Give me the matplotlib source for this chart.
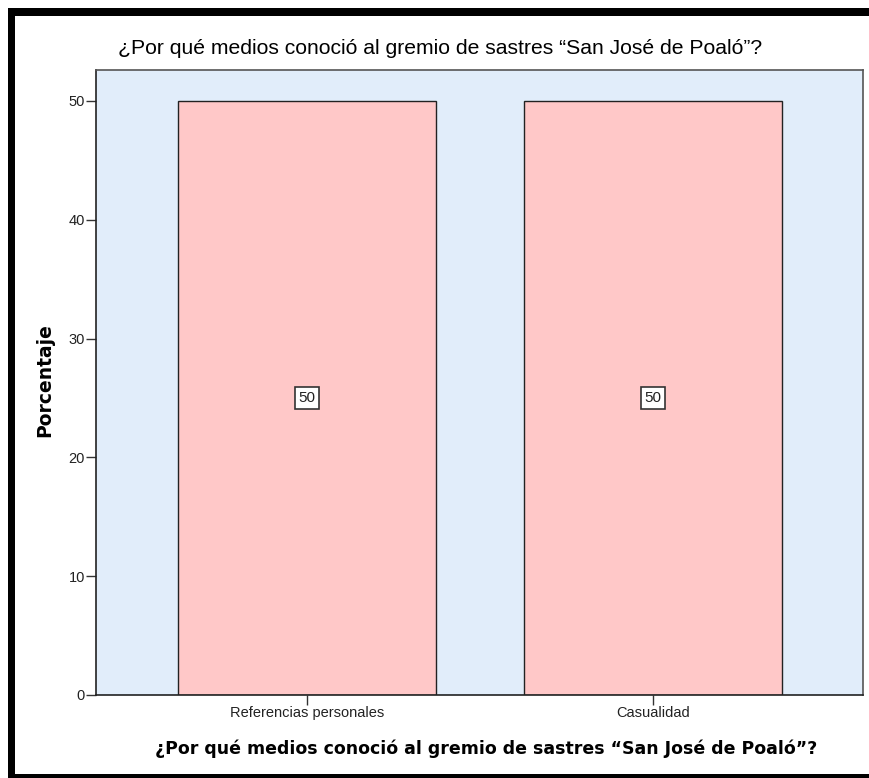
import matplotlib
matplotlib.use("Agg")
import matplotlib.pyplot as plt
from matplotlib.patches import Rectangle

categories = ["Referencias personales", "Casualidad"]
values = [50, 50]
yticks = [0, 10, 20, 30, 40, 50]
title = "¿Por qué medios conoció al gremio de sastres \u201cSan José de Poaló\u201d?"
ylabel = "Porcentaje"

W, H = 870, 778
fig = plt.figure(figsize=(W / 100, H / 100), dpi=100)
fig.patch.set_facecolor("white")

ax = fig.add_axes([96 / W, 1 - 695 / H, (863 - 96) / W, (695 - 70) / H])
ax.set_facecolor("#E1EDFA")
x = list(range(len(categories)))
ax.bar(x, values, width=0.746, color="#FFC8C8", edgecolor="#222222", linewidth=1.0, zorder=2)
for xi, v in zip(x, values):
    ax.text(xi, v / 2, f"{v}", ha="center", va="center", fontsize=11, family="Liberation Sans",
            color="#222222",
            bbox=dict(boxstyle="square,pad=0.25", facecolor="white", edgecolor="#333333", linewidth=1.2),
            zorder=3)

ax.set_xlim(-0.61, 1.607)
ax.set_ylim(0, 52.6)
ax.set_xticks(x)
ax.set_xticklabels(categories, fontsize=10.5, family="Liberation Sans", color="#222222")
ax.set_yticks(yticks)
ax.set_yticklabels([str(t) for t in yticks], fontsize=10.5, family="Liberation Sans", color="#222222")
ax.tick_params(axis="both", length=7, width=1, color="#333333", pad=1)
for s in ax.spines.values():
    s.set_color("#555555")
    s.set_linewidth(1.2)
ax.spines["left"].set_color("#222222")
ax.spines["bottom"].set_color("#222222")

fig.text(45 / W, 1 - 380 / H, ylabel, rotation=90, ha="center", va="center",
         fontsize=13.5, fontweight="bold", family="DejaVu Sans")
fig.text(486 / W, 1 - 749 / H, title, ha="center", va="center",
         fontsize=12.5, fontweight="bold", family="DejaVu Sans")
fig.text(440 / W, 1 - 48 / H, title, ha="center", va="center", fontsize=15.2, family="Liberation Sans")

# black frame
fig.add_artist(Rectangle((8 / W, 1 - 16 / H), 1 - 8 / W, 8 / H, transform=fig.transFigure,
                         facecolor="black", edgecolor="none"))
fig.add_artist(Rectangle((8 / W, 0), 7 / W, 1 - 8 / H, transform=fig.transFigure,
                         facecolor="black", edgecolor="none"))
fig.add_artist(Rectangle((8 / W, 0), 1 - 8 / W, 4 / H, transform=fig.transFigure,
                         facecolor="black", edgecolor="none"))

fig.savefig("out.png", dpi=100)
